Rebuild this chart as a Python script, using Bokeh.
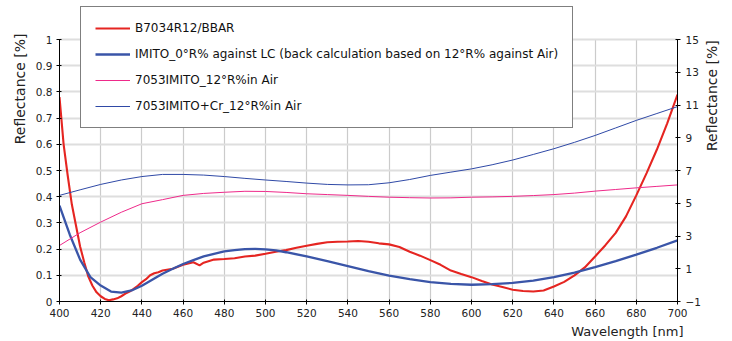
import math
from bokeh.plotting import figure
from bokeh.models import (Range1d, LinearAxis, FixedTicker, NumeralTickFormatter,
                          Legend, LegendItem, Grid, Title)
from bokeh.embed import file_html
from bokeh.resources import INLINE

# ---------------- data ----------------
x_ticks = [400, 420, 440, 460, 480, 500, 520, 540, 560, 580, 600, 620, 640, 660, 680, 700]
left_ticks = [0.0, 0.1, 0.2, 0.3, 0.4, 0.5, 0.6, 0.7, 0.8, 0.9, 1.0]
right_ticks = [-1, 1, 3, 5, 7, 9, 11, 13, 15]

# B7034R12/BBAR (left axis)
wl_red = [400, 402, 404, 406, 408, 410, 412, 414, 416, 418, 420, 422, 424, 426, 428,
          430, 432, 434, 436, 438, 440, 442, 444, 446, 448, 450, 455, 460, 465, 468,
          470, 475, 480, 485, 490, 495, 500, 505, 510, 515, 520, 525, 530, 535, 540,
          545, 550, 555, 560, 565, 570, 575, 580, 585, 590, 595, 600, 605, 610, 615,
          620, 625, 630, 635, 640, 645, 650, 655, 660, 665, 670, 675, 680, 685, 690,
          695, 700]
r_red = [0.78, 0.60, 0.48, 0.37, 0.29, 0.21, 0.15, 0.095, 0.06, 0.035, 0.02, 0.01, 0.005,
         0.008, 0.012, 0.02, 0.03, 0.038, 0.048, 0.06, 0.074, 0.085, 0.10, 0.108, 0.112,
         0.118, 0.125, 0.14, 0.15, 0.138, 0.148, 0.16, 0.162, 0.165, 0.172, 0.175, 0.182,
         0.19, 0.196, 0.205, 0.213, 0.22, 0.226, 0.228, 0.229, 0.231, 0.228, 0.222, 0.218,
         0.208, 0.19, 0.175, 0.158, 0.14, 0.118, 0.105, 0.093, 0.078, 0.065, 0.055, 0.045,
         0.04, 0.038, 0.042, 0.057, 0.075, 0.10, 0.13, 0.172, 0.215, 0.262, 0.325, 0.405,
         0.49, 0.58, 0.68, 0.79]

# IMITO_0°R% against LC (left axis)
wl_lc = [400, 405, 410, 415, 420, 425, 430, 435, 440, 445, 450, 455, 460, 465, 470, 475,
         480, 485, 490, 495, 500, 505, 510, 520, 530, 540, 550, 560, 570, 580, 590, 600,
         610, 620, 630, 640, 650, 660, 670, 680, 690, 700]
r_lc = [0.366, 0.255, 0.16, 0.093, 0.061, 0.038, 0.034, 0.042, 0.06, 0.083, 0.106, 0.125,
        0.143, 0.158, 0.172, 0.182, 0.191, 0.196, 0.2, 0.201, 0.199, 0.195, 0.188, 0.172,
        0.154, 0.135, 0.116, 0.099, 0.085, 0.074, 0.067, 0.064, 0.066, 0.071, 0.08, 0.093,
        0.11, 0.131, 0.154, 0.179, 0.205, 0.233]

# 12° in air series (right axis)
wl_air = [400, 410, 420, 430, 440, 450, 460, 470, 480, 490, 500, 510, 520, 530, 540, 550,
          560, 570, 580, 590, 600, 610, 620, 630, 640, 650, 660, 670, 680, 690, 700]
r_imito = [2.42, 3.2, 3.85, 4.45, 4.97, 5.22, 5.48, 5.6, 5.67, 5.73, 5.72, 5.66, 5.58, 5.53,
           5.48, 5.42, 5.37, 5.34, 5.32, 5.33, 5.37, 5.39, 5.42, 5.47, 5.53, 5.62, 5.74,
           5.84, 5.94, 6.03, 6.12]
r_imito_cr = [5.48, 5.82, 6.15, 6.42, 6.63, 6.76, 6.76, 6.72, 6.63, 6.52, 6.42, 6.33, 6.23,
              6.15, 6.12, 6.13, 6.25, 6.45, 6.7, 6.9, 7.1, 7.35, 7.64, 7.98, 8.33, 8.72,
              9.14, 9.6, 10.06, 10.48, 10.9]

labels = ["B7034R12/BBAR",
          "IMITO_0°R% against LC (back calculation based on 12°R% against Air)",
          "7053IMITO_12°R%in Air",
          "7053IMITO+Cr_12°R%in Air"]
y_label = "Reflectance [%]"
x_label = "Wavelength [nm]"

FONT = "DejaVu Sans"

# frame: y 0..301 (px), value 0..1 spans 262 px -> range extends above 1 for the legend
TOP_PX, BOT_PX, UNIT_PX = 0, 301, 262
ymax = (BOT_PX - TOP_PX) / UNIT_PX
rmax = -1 + 16 * ymax

p = figure(width=732, height=341, output_backend="svg", toolbar_location=None,
           x_range=Range1d(400, 700), y_range=Range1d(0, ymax),
           min_border_left=59, min_border_right=55, min_border_top=TOP_PX,
           min_border_bottom=341 - BOT_PX)
p.extra_y_ranges = {"right": Range1d(-1, rmax)}
p.outline_line_color = None
p.background_fill_color = "white"
p.border_fill_color = "white"

# grids
p.xgrid.ticker = FixedTicker(ticks=x_ticks)
p.ygrid.ticker = FixedTicker(ticks=left_ticks)
p.xgrid.grid_line_color = "#cbcbcb"
p.xgrid.grid_line_width = 1.2
p.ygrid.grid_line_color = "#dedede"
p.ygrid.grid_line_width = 2
has_cross = "cross_bounds" in Grid.properties()
if has_cross:
    p.xgrid.cross_bounds = (0, 1)

def style_axis(ax):
    ax.axis_line_color = "black"
    ax.axis_line_width = 1
    ax.major_tick_line_color = "black"
    ax.major_tick_in = 2
    ax.major_tick_out = 3
    ax.minor_tick_line_color = None
    ax.major_label_text_font = FONT
    ax.major_label_text_font_size = "10.5px"
    ax.major_label_text_color = "#222222"
    ax.major_label_standoff = 4
    ax.axis_label_text_font = FONT
    ax.axis_label_text_font_size = "14px"
    ax.axis_label_text_font_style = "normal"
    ax.axis_label_text_color = "#222222"

xa = p.xaxis[0]
xa.ticker = FixedTicker(ticks=x_ticks)
style_axis(xa)

ya = p.yaxis[0]
ya.ticker = FixedTicker(ticks=left_ticks)
ya.formatter = NumeralTickFormatter(format="0.[0]")
ya.bounds = (0, 1)
style_axis(ya)

ra = LinearAxis(y_range_name="right", ticker=FixedTicker(ticks=right_ticks),
                axis_label=y_label, bounds=(-1, 15))
style_axis(ra)
ra.axis_label_standoff = 8
ra.major_label_standoff = 5
ra.axis_label_orientation = math.pi / 2
p.add_layout(ra, "right")

# axis titles placed as side titles (aligned to the frame ends like the reference)
t_left = Title(text=y_label, align="right", offset=33, standoff=10,
               text_font=FONT, text_font_size="14px", text_font_style="normal",
               text_color="#222222")
p.add_layout(t_left, "left")
t_below = Title(text=x_label, align="right", offset=-6, standoff=4,
                text_font=FONT, text_font_size="13px", text_font_style="normal",
                text_color="#222222")
p.add_layout(t_below, "below")

if not has_cross:
    p.quad(left=[400], right=[700], bottom=[1.005], top=[ymax],
           fill_color="white", line_color=None)

# lines
l_red = p.line(wl_red, r_red, line_color="#e52521", line_width=2.1)
l_lc = p.line(wl_lc, r_lc, line_color="#3a55a8", line_width=2.3)
l_im = p.line(wl_air, r_imito, line_color="#ee2a8a", line_width=1, y_range_name="right")
l_cr = p.line(wl_air, r_imito_cr, line_color="#2f49a6", line_width=1, y_range_name="right")

legend = Legend(items=[LegendItem(label=labels[0], renderers=[l_red]),
                       LegendItem(label=labels[1], renderers=[l_lc]),
                       LegendItem(label=labels[2], renderers=[l_im]),
                       LegendItem(label=labels[3], renderers=[l_cr])],
                location=(21, 301 - 128), padding=14, glyph_width=35, glyph_height=14,
                label_height=14, spacing=12, label_standoff=5,
                border_line_color="black", border_line_width=1.5,
                background_fill_color="white", background_fill_alpha=1.0,
                label_text_font=FONT, label_text_font_size="12px",
                label_text_color="#111111")
p.add_layout(legend)

open("out.html", "w").write(file_html(p, INLINE))
